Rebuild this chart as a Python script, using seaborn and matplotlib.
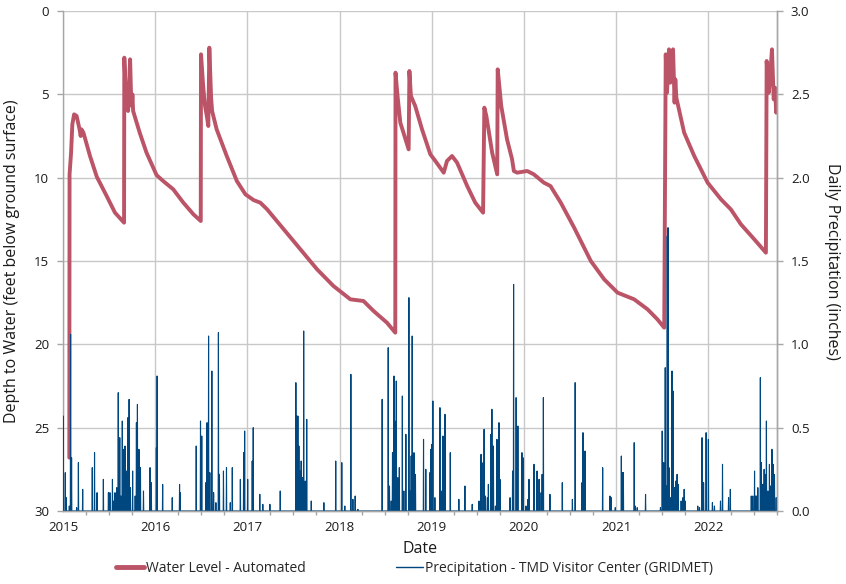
import numpy as np
import pandas as pd
import matplotlib
matplotlib.use('Agg')
import matplotlib.pyplot as plt
import matplotlib.dates as mdates
from matplotlib.lines import Line2D
import seaborn as sns

# ------------------------
# Water level (depth below ground surface, feet)
# ------------------------
wl_dates = [
    '2015-01-26', '2015-01-27', '2015-02-02', '2015-02-07', '2015-02-14', '2015-02-24',
    '2015-03-09', '2015-03-12', '2015-03-15', '2015-03-23', '2015-04-18', '2015-05-15',
    '2015-06-23', '2015-07-26', '2015-08-31',
    '2015-09-01', '2015-09-07', '2015-09-11', '2015-09-16', '2015-09-24', '2015-09-28',
    '2015-10-01', '2015-10-03', '2015-10-06', '2015-11-01', '2015-11-28', '2016-01-07',
    '2016-02-02', '2016-03-13', '2016-04-22', '2016-06-01', '2016-06-30',
    '2016-07-01', '2016-07-10', '2016-07-17', '2016-07-24', '2016-07-30', '2016-08-03',
    '2016-08-10', '2016-08-14', '2016-09-01', '2016-10-11', '2016-11-20', '2016-12-24',
    '2017-01-26', '2017-02-21', '2017-03-20', '2017-05-25', '2017-10-04', '2017-12-08',
    '2018-02-13', '2018-04-06', '2018-05-16', '2018-07-08', '2018-08-10',
    '2018-08-11', '2018-08-19', '2018-08-30', '2018-10-02', '2018-10-05', '2018-10-11',
    '2018-10-28', '2018-11-24', '2018-12-27', '2019-01-16', '2019-02-18', '2019-03-03',
    '2019-03-23', '2019-04-12', '2019-05-22', '2019-06-23', '2019-07-24',
    '2019-07-29', '2019-08-06', '2019-08-29', '2019-09-18', '2019-09-20', '2019-10-04',
    '2019-10-27', '2019-11-16', '2019-11-23', '2019-12-06', '2020-01-15', '2020-02-10',
    '2020-03-21', '2020-04-16', '2020-05-27', '2020-07-19', '2020-09-23', '2020-11-15',
    '2021-01-07', '2021-03-14', '2021-05-06', '2021-06-14', '2021-07-11',
    '2021-07-17', '2021-07-22', '2021-07-30', '2021-08-04', '2021-08-15', '2021-08-21',
    '2021-08-24', '2021-08-28', '2021-09-28', '2021-11-07', '2021-12-30', '2022-02-21',
    '2022-04-01', '2022-05-11', '2022-07-03', '2022-08-18',
    '2022-08-21', '2022-08-29', '2022-09-03', '2022-09-11', '2022-09-18', '2022-09-23',
    '2022-09-28', '2022-09-30',
]
wl_depth = [
    26.8, 9.8, 8.5, 6.8, 6.2, 6.3,
    7.2, 7.5, 7.1, 7.3, 8.7, 9.95,
    11.1, 12.1, 12.7,
    2.8, 5.0, 4.6, 6.0, 2.9, 5.2,
    5.7, 5.0, 6.0, 7.3, 8.5, 9.85,
    10.2, 10.7, 11.5, 12.2, 12.6,
    2.6, 4.6, 5.7, 6.3, 6.9, 2.2,
    5.2, 6.0, 7.1, 8.7, 10.2, 11.0,
    11.35, 11.5, 11.9, 13.1, 15.5, 16.5,
    17.3, 17.4, 18.0, 18.7, 19.3,
    3.7, 5.1, 6.7, 8.3, 3.6, 5.1,
    5.7, 7.1, 8.6, 9.0, 9.7, 9.0,
    8.7, 9.1, 10.5, 11.5, 12.1,
    5.8, 6.3, 8.5, 9.8, 3.5, 5.7,
    7.7, 8.9, 9.6, 9.7, 9.6, 9.8,
    10.3, 10.5, 11.5, 13.0, 15.0, 16.1,
    16.9, 17.3, 17.9, 18.5, 19.0,
    2.6, 4.9, 2.3, 4.3, 2.3, 5.5,
    4.1, 5.2, 7.3, 8.7, 10.3, 11.3,
    11.9, 12.8, 13.7, 14.5,
    3.0, 4.9, 4.1, 2.3, 5.3, 4.6,
    6.1, 5.5,
]

# ------------------------
# Daily precipitation events (inches); all other days are 0
# ------------------------
precip_dates = [
    '2015-01-02', '2015-01-10', '2015-01-14', '2015-01-26', '2015-01-31', '2015-02-04',
    '2015-02-24', '2015-03-03', '2015-03-20', '2015-04-27', '2015-05-06', '2015-05-16',
    '2015-06-10', '2015-06-30', '2015-07-06', '2015-07-16', '2015-07-21', '2015-07-26',
    '2015-08-02', '2015-08-08', '2015-08-14', '2015-08-19', '2015-08-24', '2015-08-30',
    '2015-09-04', '2015-09-09', '2015-09-15', '2015-09-20', '2015-09-25', '2015-10-04',
    '2015-10-14', '2015-10-19', '2015-10-23', '2015-10-29', '2015-11-04', '2015-11-16',
    '2015-12-12', '2015-12-17',
    '2016-01-06', '2016-01-09', '2016-01-31', '2016-03-09', '2016-04-07', '2016-04-09',
    '2016-06-12', '2016-06-29', '2016-07-04', '2016-07-20', '2016-07-25', '2016-07-31',
    '2016-08-05', '2016-08-13', '2016-08-20', '2016-08-29', '2016-09-08', '2016-09-12',
    '2016-09-28', '2016-10-10', '2016-10-25', '2016-11-02', '2016-12-04', '2016-12-17',
    '2016-12-21',
    '2017-01-02', '2017-01-20', '2017-01-24', '2017-02-19', '2017-03-03', '2017-03-31',
    '2017-05-11', '2017-07-12', '2017-07-16', '2017-07-20', '2017-07-24', '2017-07-28',
    '2017-08-02', '2017-08-07', '2017-08-12', '2017-08-18', '2017-08-24', '2017-09-11',
    '2017-10-31', '2017-12-17',
    '2018-01-10', '2018-01-22', '2018-02-15', '2018-02-23', '2018-03-04', '2018-03-15',
    '2018-06-19', '2018-07-13', '2018-07-18', '2018-07-25', '2018-07-30', '2018-08-05',
    '2018-08-08', '2018-08-14', '2018-08-20', '2018-08-26', '2018-09-07', '2018-09-13',
    '2018-09-21', '2018-10-03', '2018-10-07', '2018-10-12', '2018-10-16', '2018-10-23',
    '2018-10-29', '2018-11-30', '2018-12-09', '2018-12-25', '2018-12-29',
    '2019-01-02', '2019-01-06', '2019-01-14', '2019-02-03', '2019-02-08', '2019-02-15',
    '2019-02-19', '2019-02-23', '2019-03-16', '2019-04-19', '2019-05-13', '2019-06-11',
    '2019-07-08', '2019-07-16', '2019-07-24', '2019-07-28', '2019-08-02', '2019-08-10',
    '2019-08-14', '2019-08-24', '2019-08-28', '2019-09-03', '2019-09-11', '2019-09-17',
    '2019-09-25', '2019-09-29', '2019-11-08', '2019-11-18', '2019-11-22', '2019-12-02',
    '2019-12-09', '2019-12-25', '2019-12-29',
    '2020-01-10', '2020-01-18', '2020-01-22', '2020-02-11', '2020-02-23', '2020-03-02',
    '2020-03-10', '2020-03-14', '2020-03-19', '2020-04-14', '2020-06-02', '2020-07-12',
    '2020-07-23', '2020-08-19', '2020-08-23', '2020-08-27', '2020-08-31', '2020-11-09',
    '2020-12-08', '2020-12-13', '2020-12-29',
    '2021-01-22', '2021-01-26', '2021-01-30', '2021-03-14', '2021-03-18', '2021-03-26',
    '2021-04-28', '2021-06-26', '2021-07-03', '2021-07-09', '2021-07-15', '2021-07-19',
    '2021-07-23', '2021-07-26', '2021-07-30', '2021-08-06', '2021-08-11', '2021-08-15',
    '2021-08-21', '2021-08-26', '2021-08-31', '2021-09-04', '2021-09-16', '2021-09-23',
    '2021-09-28', '2021-10-02', '2021-11-21', '2021-11-28', '2021-12-08', '2021-12-14',
    '2021-12-24',
    '2022-01-02', '2022-01-18', '2022-01-26', '2022-02-19', '2022-02-27', '2022-03-23',
    '2022-03-30', '2022-06-21', '2022-06-27', '2022-07-04', '2022-07-07', '2022-07-12',
    '2022-07-17', '2022-07-27', '2022-07-31', '2022-08-06', '2022-08-11', '2022-08-15',
    '2022-08-20', '2022-08-26', '2022-09-01', '2022-09-05', '2022-09-11', '2022-09-16',
    '2022-09-21', '2022-09-28',
]
precip_in = [
    0.57, 0.23, 0.08, 0.03, 1.06, 0.32,
    0.02, 0.29, 0.13, 0.26, 0.35, 0.11,
    0.19, 0.11, 0.11, 0.19, 0.06, 0.11,
    0.14, 0.71, 0.44, 0.09, 0.54, 0.37,
    0.39, 0.24, 0.56, 0.67, 0.14, 0.24,
    0.09, 0.53, 0.64, 0.37, 0.26, 0.12,
    0.26, 0.17,
    0.38, 0.81, 0.16, 0.08, 0.16, 0.11,
    0.39, 0.54, 0.45, 0.17, 0.53, 1.05,
    0.23, 0.84, 0.11, 0.05, 1.07, 0.22,
    0.24, 0.26, 0.05, 0.26, 0.19, 0.35,
    0.48,
    0.19, 0.30, 0.50, 0.10, 0.04, 0.04,
    0.12, 0.77, 0.57, 0.57, 0.39, 0.24,
    0.30, 0.20, 1.08, 0.18, 0.55, 0.06,
    0.05, 0.30,
    0.29, 0.03, 0.82, 0.07, 0.09, 0.01,
    0.67, 0.98, 0.15, 0.06, 0.35, 0.81,
    0.54, 0.78, 0.20, 0.26, 0.69, 0.12,
    0.46, 1.28, 0.12, 0.33, 1.05, 0.35,
    0.22, 0.43, 0.25, 0.23, 0.37,
    0.40, 0.66, 0.08, 0.62, 0.12, 0.45,
    0.06, 0.58, 0.35, 0.07, 0.15, 0.04,
    0.06, 0.34, 0.29, 0.49, 0.09, 0.08,
    0.16, 0.46, 0.61, 0.39, 0.03, 0.43,
    0.53, 0.19, 0.08, 0.24, 1.36, 0.68,
    0.51, 0.35, 0.32,
    0.03, 0.07, 0.19, 0.28, 0.24, 0.19,
    0.11, 0.22, 0.68, 0.10, 0.17, 0.07,
    0.77, 0.17, 0.47, 0.11, 0.36, 0.26,
    0.09, 0.08, 0.02,
    0.33, 0.23, 0.23, 0.41, 0.03, 0.02,
    0.10, 0.02, 0.48, 0.29, 0.86, 0.15,
    1.65, 1.70, 0.26, 0.08, 0.84, 0.72,
    0.14, 0.18, 0.22, 0.16, 0.06, 0.08,
    0.13, 0.06, 0.03, 0.02, 0.44, 0.17,
    0.47,
    0.43, 0.05, 0.03, 0.06, 0.28, 0.08,
    0.13, 0.09, 0.09, 0.24, 0.09, 0.09,
    0.14, 0.80, 0.29, 0.16, 0.25, 0.22,
    0.54, 0.12, 0.28, 0.15, 0.37, 0.28,
    0.22, 0.08,
]

year_ticks = [str(y) for y in range(2015, 2023)]

# Tablas para seaborn
wl = pd.DataFrame({'date': pd.to_datetime(wl_dates), 'depth': wl_depth})
days = pd.date_range('2015-01-01', '2022-09-30', freq='D')
rain = pd.Series(0.0, index=days)
rain.loc[pd.to_datetime(precip_dates)] = precip_in
rain = rain.rename_axis('date').reset_index(name='precip')

# ------------------------
# Estilo
# ------------------------
sns.set_theme(style='white')
plt.rcParams['font.family'] = ['Open Sans', 'DejaVu Sans']
red = '#BC5468'
blue = '#00467F'
grid_c = '#C8C8C8'
axis_c = '#A6A6A6'

fig = plt.figure(figsize=(8.46, 5.84), dpi=100)
ax = fig.add_axes([63 / 846, 1 - 511 / 584, (777 - 63) / 846, 500 / 584])

sns.lineplot(data=wl, x='date', y='depth', ax=ax, color=red, linewidth=2.8,
             estimator=None, legend=False)
ax.set_ylim(30, 0)
ax.set_yticks(range(0, 31, 5))
ax.set_xlim(pd.Timestamp('2015-01-01'), pd.Timestamp('2022-10-01'))
ax.xaxis.set_major_locator(mdates.YearLocator())
ax.xaxis.set_major_formatter(mdates.DateFormatter('%Y'))
ax.xaxis.set_minor_locator(mdates.MonthLocator(bymonth=[4, 7, 10]))
ax.grid(True, which='major', color=grid_c, linewidth=1.0)
ax.set_axisbelow(True)

ax2 = ax.twinx()
sns.lineplot(data=rain, x='date', y='precip', ax=ax2, color=blue, linewidth=0.8,
             estimator=None, legend=False)
ax2.set_ylim(0, 3)
ax2.set_yticks(np.arange(0, 3.01, 0.5))
ax2.yaxis.set_major_formatter(matplotlib.ticker.FormatStrFormatter('%.1f'))
ax2.grid(False)

for a in (ax, ax2):
    for side in ('left', 'right', 'bottom'):
        a.spines[side].set_color(axis_c)
        a.spines[side].set_linewidth(1.0)
    a.spines['top'].set_visible(False)
    a.tick_params(axis='both', which='both', colors=axis_c, labelcolor='#1A1A1A',
                  labelsize=9.5, direction='out')
    a.tick_params(axis='both', which='major', length=4, width=1)
    a.tick_params(axis='x', which='minor', length=3, width=1, bottom=True)
ax2.spines['left'].set_visible(False)
ax.tick_params(axis='y', pad=6)
ax2.tick_params(axis='y', pad=6)

ax.set_xlabel('Date', fontsize=11.5, color='#1A1A1A', labelpad=5)
ax.set_ylabel('Depth to Water (feet below ground surface)', fontsize=11.5,
              color='#1A1A1A', labelpad=10)
ax2.set_ylabel('Daily Precipitation (inches)', fontsize=11.5, color='#1A1A1A',
               rotation=270, labelpad=22)

handles = [Line2D([], [], color=red, linewidth=3.5),
           Line2D([], [], color=blue, linewidth=1.0)]
labels = ['Water Level - Automated', 'Precipitation - TMD Visitor Center (GRIDMET)']
fig.legend(handles, labels, loc='lower center', ncol=2, frameon=False,
           bbox_to_anchor=(0.49, -0.008), fontsize=10, handlelength=2.0,
           handletextpad=0.1, columnspacing=6.5)

fig.savefig('out.png', dpi=100)
plt.close(fig)
